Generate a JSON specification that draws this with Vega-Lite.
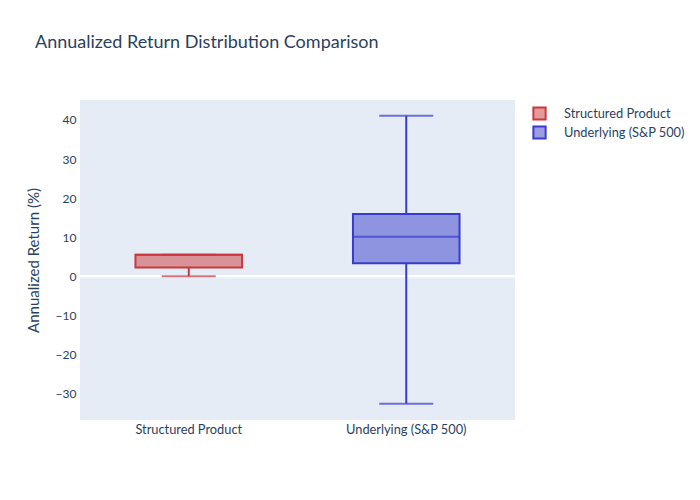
{
  "$schema": "https://vega.github.io/schema/vega-lite/v6.json",
  "width": 435,
  "height": 320,
  "autosize": {"type": "none"},
  "padding": {"left": 80, "top": 100, "right": 185, "bottom": 80},
  "background": "white",
  "title": {
    "text": "Annualized Return Distribution Comparison",
    "anchor": "start",
    "frame": "group",
    "dx": -45,
    "offset": 48,
    "font": "Lato",
    "fontSize": 18,
    "fontWeight": "normal",
    "color": "#2a3f5f"
  },
  "data": {
    "values": [
      {"group": "Structured Product", "min": 0, "q1": 2.2, "median": 5.5, "q3": 5.5, "max": 5.5},
      {"group": "Underlying (S&P 500)", "min": -32.65, "q1": 3.3, "median": 10.1, "q3": 15.9, "max": 41.1}
    ]
  },
  "config": {
    "view": {"fill": "#E5ECF6", "stroke": null},
    "font": "Lato",
    "axis": {
      "labelFont": "Lato",
      "labelFontSize": 12,
      "labelColor": "#2a3f5f",
      "titleFont": "Lato",
      "titleColor": "#2a3f5f",
      "titleFontWeight": "normal",
      "domain": false,
      "ticks": false
    },
    "legend": {
      "labelFont": "Lato",
      "labelFontSize": 12.8,
      "labelColor": "#2a3f5f"
    }
  },
  "encoding": {
    "x": {
      "field": "group",
      "type": "nominal",
      "sort": ["Structured Product", "Underlying (S&P 500)"],
      "scale": {"paddingInner": 0, "paddingOuter": 0},
      "axis": {"title": null, "labelAngle": 0, "labelPadding": 3, "labelFontSize": 12.8, "grid": false}
    }
  },
  "layer": [
    {
      "mark": {"type": "rule", "color": "white", "strokeWidth": 2},
      "encoding": {"x": null, "y": {"datum": 0, "type": "quantitative"}}
    },
    {
      "mark": {"type": "rule", "strokeWidth": 2},
      "encoding": {
        "y": {
          "field": "min",
          "type": "quantitative",
          "scale": {"domain": [-36.84, 45.12], "nice": false, "zero": false},
          "axis": {
            "title": "Annualized Return (%)",
            "titleFontSize": 15,
            "titlePadding": 14,
            "values": [-30, -20, -10, 0, 10, 20, 30, 40],
            "gridColor": "white",
            "gridWidth": 1,
            "labelPadding": 4
          }
        },
        "y2": {"field": "q1"},
        "stroke": {
          "field": "group",
          "type": "nominal",
          "scale": {"range": ["#CB383A", "#393CCA"]},
          "legend": {
            "title": null,
            "orient": "none",
            "legendX": 452,
            "legendY": 6,
            "symbolType": "square",
            "symbolSize": 150,
            "symbolStrokeWidth": 2,
            "labelOffset": 17,
            "rowPadding": -2,
            "encode": {
              "symbols": {
                "update": {
                  "fill": {"scale": "fill", "field": "value"},
                  "fillOpacity": {"value": 1}
                }
              }
            }
          }
        }
      }
    },
    {
      "mark": {"type": "rule", "strokeWidth": 2},
      "encoding": {
        "y": {"field": "q3", "type": "quantitative"},
        "y2": {"field": "max"},
        "stroke": {"field": "group", "type": "nominal"}
      }
    },
    {
      "mark": {"type": "tick", "size": 54, "thickness": 2, "filled": true},
      "encoding": {
        "y": {"field": "min", "type": "quantitative"},
        "color": {"field": "group", "type": "nominal", "legend": null, "scale": {"range": ["#CB383A", "#393CCA"]}}
      }
    },
    {
      "mark": {"type": "tick", "size": 54, "thickness": 2, "filled": true},
      "encoding": {
        "y": {"field": "max", "type": "quantitative"},
        "color": {"field": "group", "type": "nominal", "legend": null}
      }
    },
    {
      "mark": {"type": "bar", "width": {"band": 0.49}, "strokeWidth": 2},
      "encoding": {
        "y": {"field": "q1", "type": "quantitative"},
        "y2": {"field": "q3"},
        "fill": {
          "field": "group",
          "type": "nominal",
          "scale": {"range": ["rgba(203,56,58,0.5)", "rgba(57,60,202,0.5)"]},
          "legend": null
        },
        "stroke": {"field": "group", "type": "nominal"}
      }
    },
    {
      "mark": {"type": "tick", "size": 107, "thickness": 2, "filled": true},
      "encoding": {
        "y": {"field": "median", "type": "quantitative"},
        "color": {"field": "group", "type": "nominal", "legend": null}
      }
    }
  ]
}
